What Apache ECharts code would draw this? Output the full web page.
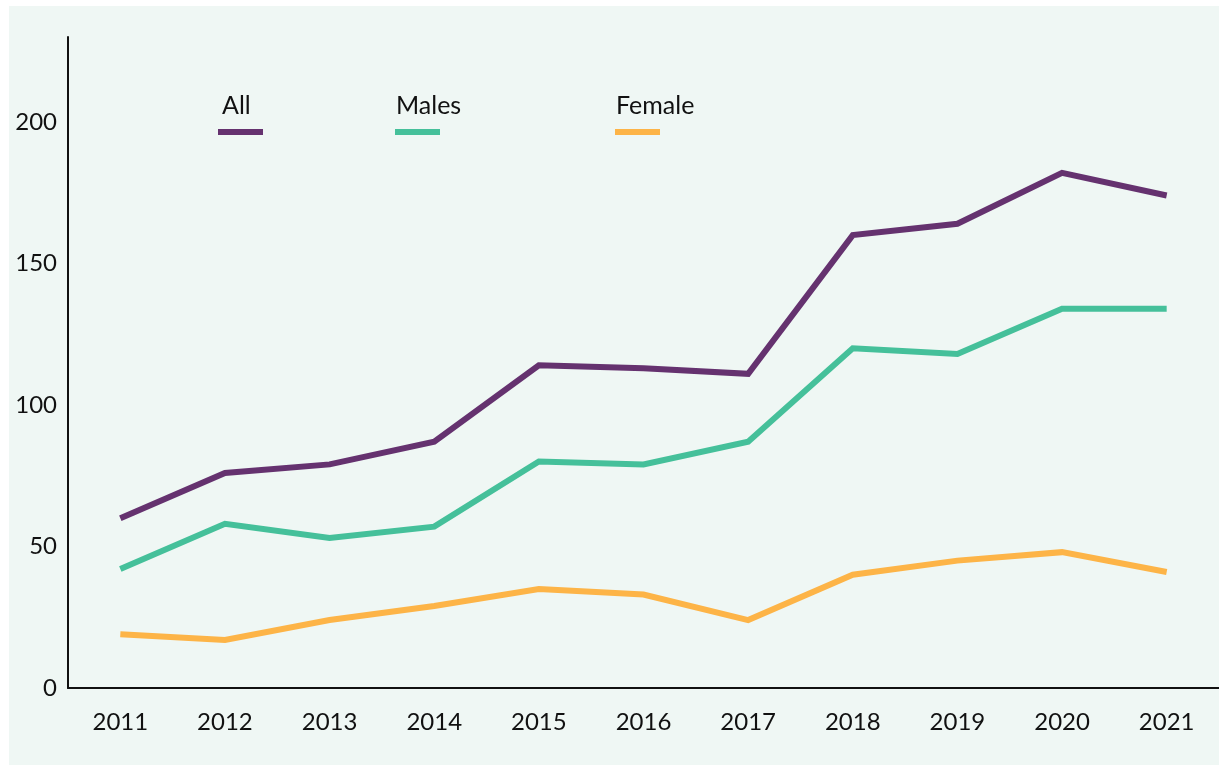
<!DOCTYPE html>
<html lang="en">
<head>
    <meta charset="UTF-8">
    <title>All / Males / Female 2011-2021</title>
    <script src="https://cdn.jsdelivr.net/npm/echarts@6/dist/echarts.min.js"></script>
    <style>
        html, body {
            margin: 0;
            padding: 0;
            background: #fff;
        }
        #panel {
            position: absolute;
            left: 9px;
            top: 6px;
            width: 1210px;
            height: 759px;
            background: #EFF7F4;
        }
        #chart {
            position: absolute;
            left: 0;
            top: 0;
            width: 1219px;
            height: 765px;
        }
    </style>
</head>
<body>
<div id="panel"></div>
<div id="chart"></div>
<script>
    const years = ['2011', '2012', '2013', '2014', '2015', '2016', '2017', '2018', '2019', '2020', '2021'];
    const allData = [60, 76, 79, 87, 114, 113, 111, 160, 164, 182, 174];
    const malesData = [42, 58, 53, 57, 80, 79, 87, 120, 118, 134, 134];
    const femaleData = [19, 17, 24, 29, 35, 33, 24, 40, 45, 48, 41];
    const seriesNames = ['All', 'Males', 'Female'];
    const colors = ['#65326F', '#45C09A', '#FDB447'];

    (function () {
        drawChart();
    })();

    function drawChart() {
        let myChart = echarts.init(document.getElementById('chart'));
        const font = 'Lato, "Noto Sans", sans-serif';
        const legendX = [218, 395, 615];

        let graphics = [];
        seriesNames.forEach(function (name, i) {
            graphics.push({
                type: 'text',
                left: legendX[i] + (i === 0 ? 4 : 1),
                top: 93,
                style: {text: name, font: '400 25px ' + font, fill: '#111'}
            });
            graphics.push({
                type: 'rect',
                left: legendX[i],
                top: 129,
                shape: {width: 45, height: 6},
                style: {fill: colors[i]}
            });
        });

        let option = {
            color: colors,
            textStyle: {fontFamily: font},
            grid: {
                left: 68,
                right: 0,
                top: 37,
                bottom: 77
            },
            xAxis: {
                type: 'category',
                boundaryGap: true,
                data: years,
                axisLine: {lineStyle: {color: '#111', width: 2}},
                axisTick: {show: false},
                axisLabel: {color: '#111', fontSize: 24, margin: 22, fontFamily: font}
            },
            yAxis: {
                type: 'value',
                min: 0,
                max: 230,
                interval: 50,
                axisLine: {show: true, lineStyle: {color: '#111', width: 2}},
                axisTick: {show: false},
                splitLine: {show: false},
                axisLabel: {
                    color: '#111', fontSize: 24, margin: 11, fontFamily: font,
                    showMaxLabel: false
                }
            },
            graphic: graphics,
            series: [
                {name: 'All', type: 'line', data: allData},
                {name: 'Males', type: 'line', data: malesData},
                {name: 'Female', type: 'line', data: femaleData}
            ].map(function (s) {
                s.symbol = 'none';
                s.lineStyle = {width: 6, cap: 'butt', join: 'miter'};
                s.animation = false;
                return s;
            })
        };
        myChart.setOption(option);
    }
</script>
</body>
</html>
